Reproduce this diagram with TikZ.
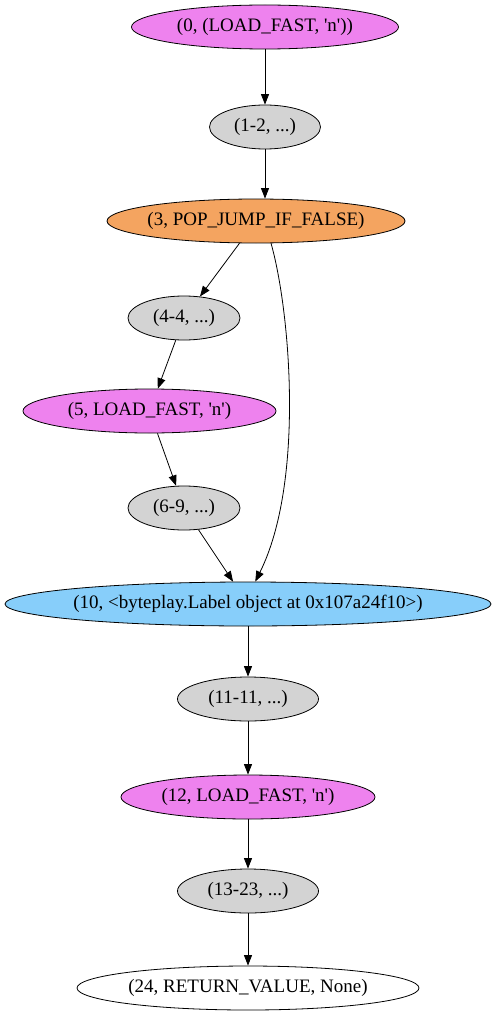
\documentclass[tikz,border=0pt]{standalone}
\usepackage{fontspec}
\setmainfont{Liberation Serif}
\usetikzlibrary{shapes.geometric,arrows.meta}
\definecolor{cviolet}{HTML}{EE82EE}
\definecolor{cgray}{HTML}{D3D3D3}
\definecolor{csandy}{HTML}{F4A460}
\definecolor{csky}{HTML}{87CEFA}
\newcommand{\sq}{\textquotesingle}
\begin{document}
\begin{tikzpicture}[x=1pt,y=-1pt,
  blk/.style={ellipse,draw=black,line width=0.8pt,inner sep=0pt,minimum height=44pt,
    label={[font=\fontsize{19}{21}\selectfont,inner sep=0pt]center:#1}},
  arr/.style={draw=black,line width=0.8pt,-{Triangle[length=10.5pt,width=8pt]}}]
\useasboundingbox (0,0) rectangle (496,1019);
\node[blk={(0, (LOAD\_FAST, \sq n\sq))},fill=cviolet,minimum width=267pt] (n0) at (265,27) {};
\node[blk={(1-2, ...)},fill=cgray,minimum width=111pt] (n1) at (265,127) {};
\node[blk={(3, POP\_JUMP\_IF\_FALSE)},fill=csandy,minimum width=298pt] (n3) at (256,221) {};
\node[blk={(4-4, ...)},fill=cgray,minimum width=112pt] (n4) at (184,318) {};
\node[blk={(5, LOAD\_FAST, \sq n\sq)},fill=cviolet,minimum width=253pt] (n5) at (149.5,411) {};
\node[blk={(6-9, ...)},fill=cgray,minimum width=112pt] (n6) at (184,508) {};
\node[blk={(10, <byteplay.Label object at 0x107a24f10>)},fill=csky,minimum width=486pt] (n10) at (248,604) {};
\node[blk={(11-11, ...)},fill=cgray,minimum width=141pt] (n11) at (248,699) {};
\node[blk={(12, LOAD\_FAST, \sq n\sq)},fill=cviolet,minimum width=254pt] (n12) at (248,797) {};
\node[blk={(13-23, ...)},fill=cgray,minimum width=141pt] (n13) at (248,891) {};
\node[blk={(24, RETURN\_VALUE, None)},fill=white,minimum width=342pt] (n24) at (248,988) {};
% control flow edges
\draw[arr] (n0) -- (n1);
\draw[arr] (n1) -- (n1 |- n3.north);
\draw[arr] (n3) -- (n4);
\draw[arr] (n3.-56) .. controls (290,310) and (305,482) .. (n10.72);
\draw[arr] (n4) -- (n5);
\draw[arr] (n5) -- (n6);
\draw[arr] (n6) -- (n10);
\draw[arr] (n10) -- (n11);
\draw[arr] (n11) -- (n12);
\draw[arr] (n12) -- (n13);
\draw[arr] (n13) -- (n24);
\end{tikzpicture}
\end{document}
